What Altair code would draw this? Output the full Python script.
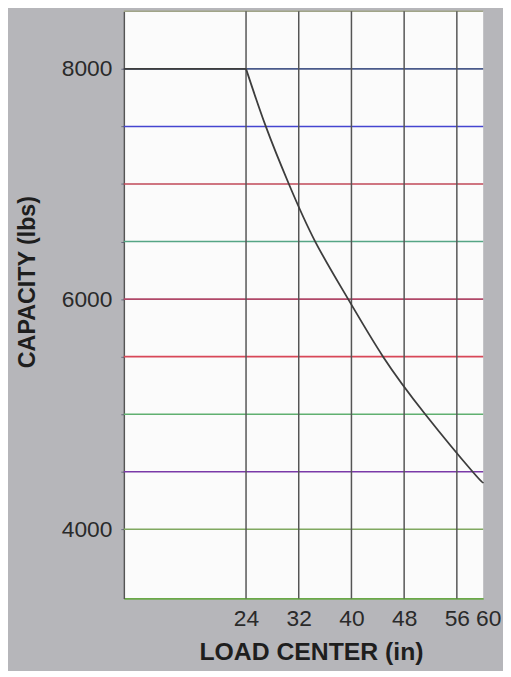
import altair as alt
import pandas as pd

# Flat part of the capacity chart (rated load up to 24 in load centre)
flat_x = [5.45, 24]
flat_y = [8000, 8000]

# Derated part of the curve
curve_x = [24, 27.0, 30.5, 34.5, 39.5, 44.8, 51.2, 58.4, 60]
curve_y = [8000, 7500, 7000, 6500, 6000, 5500, 5000, 4500, 4410]

# horizontal grid lines and their (scan-tinted) colours
h_values = [8500, 8000, 7500, 7000, 6500, 6000, 5500, 5000, 4500, 4000]
h_colors = ["#a0a488", "#4a5a8a", "#4545d0", "#c04858", "#55a585",
            "#b04868", "#d84858", "#60b070", "#7a3aa8", "#80a860"]

# vertical grid lines
v_values = [24, 32, 40, 48, 56]
x_ticks = [24, 32, 40, 48, 56, 60]
y_ticks = [4000, 4500, 5000, 5500, 6000, 6500, 7000, 7500, 8000]

flat = pd.DataFrame({"x": flat_x, "y": flat_y})
curve = pd.DataFrame({"x": curve_x, "y": curve_y})
hdf = pd.DataFrame({"y": h_values, "c": h_colors})
vdf = pd.DataFrame({"x": v_values})

FONT = "Liberation Sans"
xs = alt.Scale(domain=[5.45, 60], nice=False, zero=False)
ys = alt.Scale(domain=[3400, 8500], nice=False, zero=False)

hlines = alt.Chart(hdf).mark_rule(strokeWidth=1.6).encode(
    y=alt.Y("y:Q", scale=ys),
    color=alt.Color("c:N", scale=None),
)

vlines = alt.Chart(vdf).mark_rule(color="#555555", strokeWidth=1.5).encode(
    x=alt.X("x:Q", scale=xs),
)

flat_line = alt.Chart(flat).mark_line(color="#3d3d3d", strokeWidth=1.8).encode(
    x=alt.X("x:Q", scale=xs),
    y=alt.Y("y:Q", scale=ys),
)

line = alt.Chart(curve).mark_line(
    color="#3d3d3d", strokeWidth=1.8, interpolate="natural"
).encode(
    x=alt.X(
        "x:Q", scale=xs,
        axis=alt.Axis(
            values=x_ticks, grid=False, ticks=False, domain=True,
            domainColor="#6aa848", domainWidth=2,
            labelFont=FONT, labelFontSize=23, labelColor="#2a2a2a",
            labelPadding=9, labelFlush=False, labelOverlap=False,
            labelOffset={"condition": {"test": "datum.value == 60", "value": 5},
                         "value": 0},
            title="LOAD CENTER (in)", titleFont=FONT, titleFontSize=25,
            titleFontWeight="bold", titleColor="#1e1e1e",
            titleX=189, titleY=54, titleBaseline="middle", titleAlign="center",
        ),
    ),
    y=alt.Y(
        "y:Q", scale=ys,
        axis=alt.Axis(
            values=y_ticks, grid=False, ticks=True, tickSize=3,
            tickColor="#6a6a80", domain=True, domainColor="#555555",
            domainWidth=1.5,
            labelExpr="datum.value % 2000 == 0 ? datum.value : ''",
            labelFont=FONT, labelFontSize=23, labelColor="#2a2a2a",
            labelPadding=9, labelFlush=False,
            title="CAPACITY (lbs)", titleFont=FONT, titleFontSize=23.5,
            titleFontWeight="bold", titleColor="#1e1e1e",
            titleAngle=-90, titleX=-97, titleY=273,
            titleBaseline="middle", titleAlign="center",
        ),
    ),
)

chart = alt.layer(hlines, vlines, flat_line, line).properties(
    width=363,
    height=593,
    autosize=alt.AutoSizeParams(type="none"),
    padding={"left": 117, "top": 0, "right": 20, "bottom": 70},
    background="#b6b6ba",
).configure_view(fill="#fbfbfb", stroke=None)

chart.save("out.html", embed_options={"renderer": "svg", "actions": False})
